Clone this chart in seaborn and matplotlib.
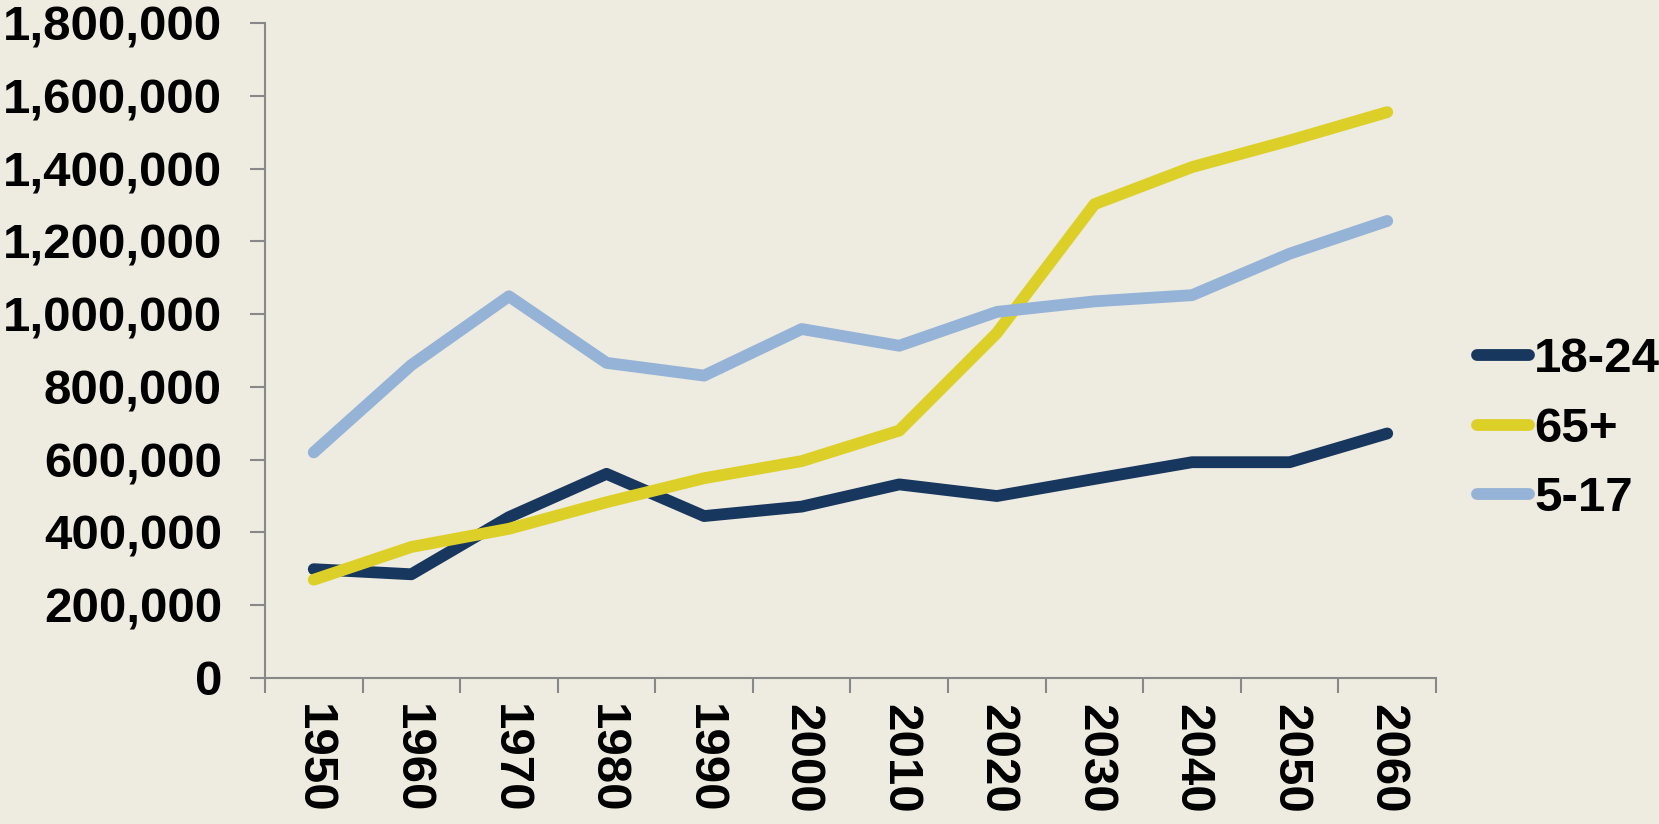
import numpy as np
import pandas as pd
import matplotlib
matplotlib.use("Agg")
import matplotlib.pyplot as plt
from matplotlib.ticker import FuncFormatter, FixedLocator
import seaborn as sns

years = [1950, 1960, 1970, 1980, 1990, 2000, 2010, 2020, 2030, 2040, 2050, 2060]
age_18_24 = [299000, 285000, 442000, 561000, 445000, 471000, 532000, 500000, 547000, 593000, 593000, 672000]
age_65_plus = [270000, 360000, 410000, 483000, 549000, 596000, 680000, 948000, 1302000, 1404000, 1477000, 1555000]
age_5_17 = [620000, 860000, 1049000, 866000, 831000, 959000, 913000, 1006000, 1035000, 1052000, 1166000, 1256000]
groups = ["18-24", "65+", "5-17"]
colors = ["#17375E", "#DCD028", "#95B3D7"]

df = pd.DataFrame({
    "Year": years * 3,
    "Population": age_18_24 + age_65_plus + age_5_17,
    "Group": [g for g in groups for _ in years],
})

bg = "#EEEBE0"
sns.set_style("white")
plt.rcParams["font.family"] = ["Liberation Sans", "DejaVu Sans"]
plt.rcParams["font.weight"] = "bold"

fig = plt.figure(figsize=(16.59, 8.24), dpi=100, facecolor=bg)
ax = fig.add_axes([0.1597, 0.1772, 0.7059, 0.7949])
ax.set_facecolor(bg)

sns.lineplot(data=df, x="Year", y="Population", hue="Group", hue_order=groups,
             palette=colors, linewidth=8.5, ax=ax, solid_capstyle="round",
             solid_joinstyle="round")

ax.set_xlim(1945, 2065)
ax.set_ylim(0, 1800000)
ax.set_yticks(np.arange(0, 1800001, 200000))
ax.yaxis.set_major_formatter(FuncFormatter(lambda v, p: f"{int(v):,}"))
ax.set_xticks(years)
ax.set_xticklabels([str(y) for y in years], rotation=270)
ax.xaxis.set_minor_locator(FixedLocator(np.arange(1945, 2066, 10)))
ax.tick_params(axis="x", which="major", bottom=True, length=0, labelsize=35.5, pad=19)
ax.tick_params(axis="x", which="minor", bottom=True, length=11, width=1.5, color="#888888")
ax.tick_params(axis="y", left=True, length=11, width=1.5, color="#888888", labelsize=35.5, pad=20)
for lab in ax.get_xticklabels() + ax.get_yticklabels():
    lab.set_fontweight("bold")
    lab.set_color("black")

for s in ["top", "right"]:
    ax.spines[s].set_visible(False)
for s in ["left", "bottom"]:
    ax.spines[s].set_color("#888888")
    ax.spines[s].set_linewidth(1.5)

ax.set_xlabel("")
ax.set_ylabel("")

leg = ax.legend(loc="center left", bbox_to_anchor=(0.890, 0.479), bbox_transform=fig.transFigure,
                frameon=False, fontsize=35.5, handlelength=1.07, handletextpad=0.1,
                labelspacing=0.5, borderpad=0, borderaxespad=0)
for line in leg.get_lines():
    line.set_linewidth(8.5)
    line.set_solid_capstyle("round")
for t in leg.get_texts():
    t.set_fontweight("bold")
    t.set_color("black")

fig.savefig("out.png", dpi=100, facecolor=bg)
